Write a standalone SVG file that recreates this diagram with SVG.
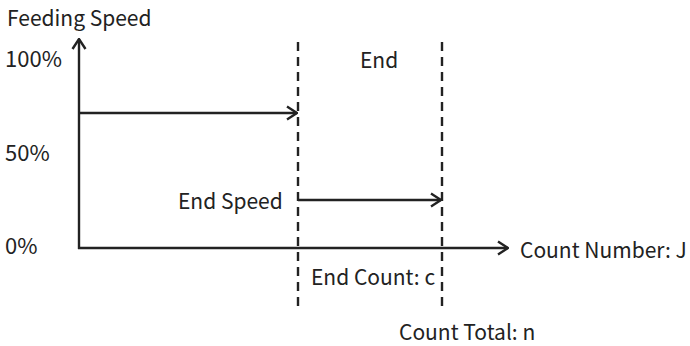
<svg xmlns="http://www.w3.org/2000/svg" width="690" height="346" viewBox="0 0 690 346">
<defs>
<marker id="arr" viewBox="0 0 12 16" refX="11" refY="8" markerWidth="12" markerHeight="16" markerUnits="userSpaceOnUse" orient="auto">
<polyline points="1,1.5 11,8 1,14.5" fill="none" stroke="#222" stroke-width="2.4"/>
</marker>
</defs>
<style>
text{font-family:"Noto Sans CJK SC","Noto Sans",sans-serif;font-size:21px;fill:#222}
.pc{font-size:22px}
.ax{stroke:#222;stroke-width:2.4;fill:none}
.dash{stroke:#222;stroke-width:2.4;stroke-dasharray:9 6;fill:none}
</style>
<rect width="690" height="346" fill="#fff"/>
<g id="connectors">
<line class="ax" x1="79" y1="249" x2="79" y2="39" marker-end="url(#arr)"/>
<line class="ax" x1="78" y1="248" x2="508" y2="248" marker-end="url(#arr)"/>
<line class="dash" x1="298" y1="42" x2="298" y2="312"/>
<line class="dash" x1="442" y1="42" x2="442" y2="312"/>
<line class="ax" x1="80" y1="113" x2="297" y2="113" marker-end="url(#arr)"/>
<line class="ax" x1="298" y1="200" x2="441" y2="200" marker-end="url(#arr)"/>
</g>
<g id="labels">
<text x="7" y="26">Feeding Speed</text>
<text class="pc" x="5" y="67">100%</text>
<text class="pc" x="5" y="161">50%</text>
<text class="pc" x="5" y="254">0%</text>
<text x="360" y="68">End</text>
<text x="178" y="209">End Speed</text>
<text x="311" y="285">End Count: c</text>
<text x="520" y="258">Count Number: J</text>
<text x="399" y="340">Count Total: n</text>
</g>
</svg>
